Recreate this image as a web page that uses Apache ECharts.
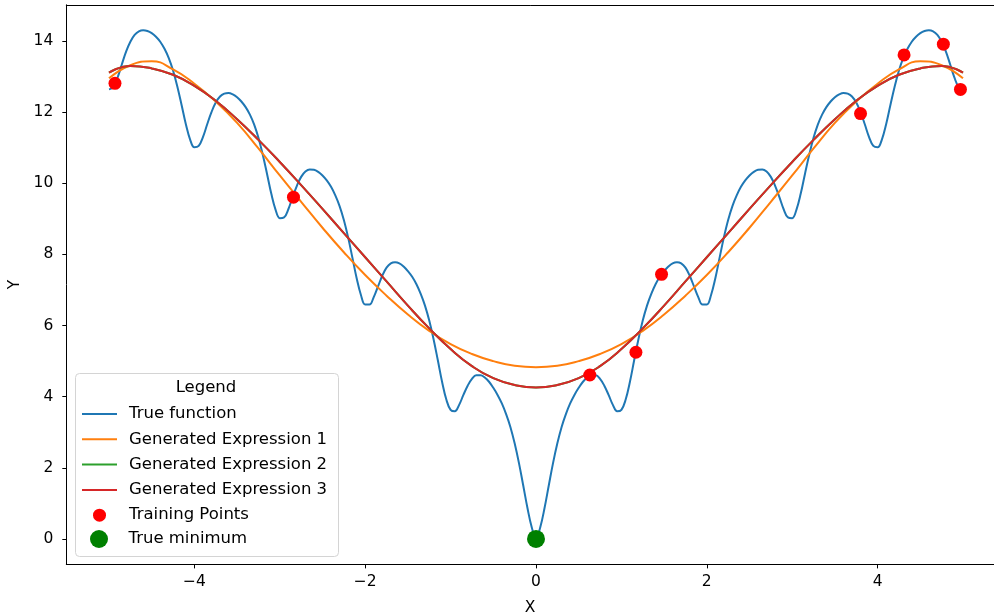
<!DOCTYPE html>
<html>
<head>
<meta charset="utf-8">
<script src="https://cdn.jsdelivr.net/npm/echarts@6/dist/echarts.min.js"></script>
<style>
html,body{margin:0;padding:0;background:#ffffff;}
#chart{width:994px;height:614px;}
</style>
</head>
<body>
<div id="chart"></div>
<script>
// ---- data ----
const trueX = [-5.00,-4.95,-4.90,-4.85,-4.80,-4.75,-4.70,-4.65,-4.60,-4.55,
-4.50,-4.45,-4.40,-4.35,-4.30,-4.25,-4.20,-4.15,-4.10,-4.05,
-4.00,-3.95,-3.90,-3.85,-3.80,-3.75,-3.70,-3.65,-3.60,-3.55,
-3.50,-3.45,-3.40,-3.35,-3.30,-3.25,-3.20,-3.15,-3.10,-3.05,
-3.00,-2.95,-2.90,-2.85,-2.80,-2.75,-2.70,-2.65,-2.60,-2.55,
-2.50,-2.45,-2.40,-2.35,-2.30,-2.25,-2.20,-2.15,-2.10,-2.05,
-2.00,-1.95,-1.90,-1.85,-1.80,-1.75,-1.70,-1.65,-1.60,-1.55,
-1.50,-1.45,-1.40,-1.35,-1.30,-1.25,-1.20,-1.15,-1.10,-1.05,
-1.00,-0.95,-0.90,-0.85,-0.80,-0.75,-0.70,-0.65,-0.60,-0.55,
-0.50,-0.45,-0.40,-0.35,-0.30,-0.25,-0.20,-0.15,-0.10,-0.05,
0.00,
0.05,0.10,0.15,0.20,0.25,0.30,0.35,0.40,0.45,0.50,
0.55,0.60,0.65,0.70,0.75,0.80,0.85,0.90,0.95,1.00,
1.05,1.10,1.15,1.20,1.25,1.30,1.35,1.40,1.45,1.50,
1.55,1.60,1.65,1.70,1.75,1.80,1.85,1.90,1.95,2.00,
2.05,2.10,2.15,2.20,2.25,2.30,2.35,2.40,2.45,2.50,
2.55,2.60,2.65,2.70,2.75,2.80,2.85,2.90,2.95,3.00,
3.05,3.10,3.15,3.20,3.25,3.30,3.35,3.40,3.45,3.50,
3.55,3.60,3.65,3.70,3.75,3.80,3.85,3.90,3.95,4.00,
4.05,4.10,4.15,4.20,4.25,4.30,4.35,4.40,4.45,4.50,
4.55,4.60,4.65,4.70,4.75,4.80,4.85,4.90,4.95,5.00];
const trueY = [12.64,12.70,12.97,13.34,13.70,13.98,14.17,14.27,14.30,14.28,
14.22,14.12,13.98,13.78,13.52,13.17,12.72,12.20,11.66,11.23,
11.01,11.05,11.30,11.66,12.00,12.27,12.44,12.52,12.54,12.50,
12.42,12.30,12.14,11.93,11.65,11.28,10.81,10.27,9.71,9.26,
9.02,9.04,9.27,9.61,9.93,10.18,10.33,10.39,10.38,10.32,
10.22,10.08,9.90,9.66,9.36,8.97,8.48,7.91,7.33,6.86,
6.59,6.59,6.80,7.10,7.40,7.63,7.75,7.78,7.75,7.66,
7.53,7.37,7.16,6.89,6.56,6.14,5.62,5.03,4.42,3.92,
3.63,3.59,3.77,4.05,4.31,4.50,4.60,4.60,4.54,4.42,
4.25,4.05,3.81,3.51,3.15,2.69,2.14,1.51,0.87,0.33,
0.00,
0.33,0.87,1.51,2.14,2.69,3.15,3.51,3.81,4.05,4.25,
4.42,4.54,4.60,4.60,4.50,4.31,4.05,3.77,3.59,3.63,
3.92,4.42,5.03,5.62,6.14,6.56,6.89,7.16,7.37,7.53,
7.66,7.75,7.78,7.75,7.63,7.40,7.10,6.80,6.59,6.59,
6.86,7.33,7.91,8.48,8.97,9.36,9.66,9.90,10.08,10.22,
10.32,10.38,10.39,10.33,10.18,9.93,9.61,9.27,9.04,9.02,
9.26,9.71,10.27,10.81,11.28,11.65,11.93,12.14,12.30,12.42,
12.50,12.54,12.52,12.44,12.27,12.00,11.66,11.30,11.05,11.01,
11.23,11.66,12.20,12.72,13.17,13.52,13.78,13.98,14.12,14.22,
14.28,14.30,14.27,14.17,13.98,13.70,13.34,12.97,12.70,12.64];

const exprX = [-5.0,-4.75,-4.5,-4.25,-4.0,-3.75,-3.5,-3.25,-3.0,-2.75,-2.5,-2.25,-2.0,-1.75,-1.5,-1.25,-1.0,-0.75,-0.5,-0.25,0.0,0.25,0.5,0.75,1.0,1.25,1.5,1.75,2.0,2.25,2.5,2.75,3.0,3.25,3.5,3.75,4.0,4.25,4.5,4.75,5.0];
const expr1Y = [12.95,13.32,13.43,13.20,12.80,12.30,11.70,10.98,10.22,9.48,8.75,8.06,7.42,6.84,6.31,5.85,5.48,5.20,5.00,4.87,4.83,4.87,5.00,5.20,5.48,5.85,6.31,6.84,7.42,8.06,8.75,9.48,10.22,10.98,11.70,12.30,12.80,13.20,13.43,13.32,12.95];
const expr2Y = [13.11,13.30,13.23,13.05,12.74,12.32,11.80,11.22,10.60,9.95,9.28,8.60,7.92,7.24,6.56,5.92,5.34,4.86,4.52,4.33,4.26,4.33,4.52,4.86,5.34,5.92,6.56,7.24,7.92,8.60,9.28,9.95,10.60,11.22,11.80,12.32,12.74,13.05,13.23,13.30,13.11];
const expr3Y = [13.11,13.30,13.23,13.05,12.74,12.32,11.80,11.22,10.60,9.95,9.28,8.60,7.92,7.24,6.56,5.92,5.34,4.86,4.52,4.33,4.26,4.33,4.52,4.86,5.34,5.92,6.56,7.24,7.92,8.60,9.28,9.95,10.60,11.22,11.80,12.32,12.74,13.05,13.23,13.30,13.11];

const trainX = [-4.93,-2.84,0.63,1.17,1.47,3.80,4.31,4.77,4.97];
const trainY = [12.81,9.61,4.61,5.25,7.44,11.96,13.61,13.91,12.64];

const minX = [0];
const minY = [0];

const xTicks = [-4,-2,0,2,4];
const yTicks = [0,2,4,6,8,10,12,14];

const seriesNames = ['True function','Generated Expression 1','Generated Expression 2','Generated Expression 3','Training Points','True minimum'];

// ---- chart ----
function pairs(xs, ys){ return xs.map((x,i)=>[x, ys[i]]); }
function fmt(v){ return v < 0 ? '\u2212' + Math.abs(v) : String(v); }

const FONT = 'DejaVu Sans';
const TICK_FS = 15.5;
const LEG_FS = 16.5;
const chart = echarts.init(document.getElementById('chart'), null, {renderer:'canvas'});

const noSymbol = {opacity: 0, color: 'rgba(0,0,0,0)', borderWidth: 0};

chart.setOption({
  animation: false,
  backgroundColor: '#ffffff',
  textStyle: {fontFamily: FONT},
  grid: {left: 66.3, top: 4.8, width: 927.7, height: 559.6, show: false, containLabel: false, outerBoundsMode: 'none'},
  xAxis: [
    {
      type: 'value', min: -5.5, max: 5.363,
      name: 'X', nameLocation: 'middle', nameGap: 36,
      nameTextStyle: {fontFamily: FONT, fontSize: TICK_FS, color: '#000'},
      axisLine: {show: true, onZero: false, lineStyle: {color: '#000', width: 1}},
      axisTick: {show: true, length: 4, inside: false, customValues: xTicks, lineStyle: {color: '#000', width: 1}},
      axisLabel: {show: true, customValues: xTicks, margin: 10, formatter: fmt, fontFamily: FONT, fontSize: TICK_FS, color: '#000'},
      splitLine: {show: false}
    },
    {
      type: 'value', position: 'top', min: -5.5, max: 5.363,
      axisLine: {show: true, onZero: false, lineStyle: {color: '#000', width: 1}},
      axisTick: {show: false}, axisLabel: {show: false}, splitLine: {show: false}
    }
  ],
  yAxis: {
    type: 'value', min: -0.715, max: 15.018,
    name: 'Y', nameLocation: 'middle', nameGap: 43,
    nameTextStyle: {fontFamily: FONT, fontSize: TICK_FS, color: '#000'},
    axisLine: {show: true, onZero: false, lineStyle: {color: '#000', width: 1}},
    axisTick: {show: true, length: 4, inside: false, customValues: yTicks, lineStyle: {color: '#000', width: 1}},
    axisLabel: {show: true, customValues: yTicks, margin: 13, formatter: fmt, fontFamily: FONT, fontSize: TICK_FS, color: '#000'},
    splitLine: {show: false}
  },
  legend: [
    {
      data: [
        {name: seriesNames[0], itemStyle: noSymbol},
        {name: seriesNames[1], itemStyle: noSymbol},
        {name: seriesNames[2], itemStyle: noSymbol},
        {name: seriesNames[3], itemStyle: noSymbol},
        {name: seriesNames[4], icon: 'circle'}
      ],
      orient: 'vertical', left: 81, top: 405.5, padding: 0,
      itemWidth: 35, itemHeight: 13, itemGap: 8.3,
      textStyle: {fontFamily: FONT, fontSize: LEG_FS, color: '#000', padding: [0,0,0,7]},
      selectedMode: false, z: 6
    },
    {
      data: [{name: seriesNames[5], icon: 'circle'}],
      orient: 'vertical', left: 90, top: 530, padding: 0,
      itemWidth: 35, itemHeight: 18,
      textStyle: {fontFamily: FONT, fontSize: LEG_FS, color: '#000', padding: [0,0,0,7]},
      selectedMode: false, z: 6
    }
  ],
  graphic: [
    {
      type: 'rect', z: 5,
      shape: {x: 75.5, y: 373.5, width: 263, height: 183, r: 4},
      style: {fill: 'rgba(255,255,255,0.8)', stroke: '#d4d4d4', lineWidth: 1}
    },
    {
      type: 'text', z: 7, x: 206, y: 388,
      style: {text: 'Legend', font: LEG_FS + 'px "DejaVu Sans"', fill: '#000', align: 'center', verticalAlign: 'middle'}
    }
  ],
  series: [
    {name: seriesNames[0], type: 'line', data: pairs(trueX, trueY), smooth: 0.4, symbol: 'none',
     lineStyle: {color: '#1f77b4', width: 2}, itemStyle: {color: '#1f77b4'}},
    {name: seriesNames[1], type: 'line', data: pairs(exprX, expr1Y), smooth: true, symbol: 'none',
     lineStyle: {color: '#ff7f0e', width: 2}, itemStyle: {color: '#ff7f0e'}},
    {name: seriesNames[2], type: 'line', data: pairs(exprX, expr2Y), smooth: true, symbol: 'none',
     lineStyle: {color: '#2ca02c', width: 2}, itemStyle: {color: '#2ca02c'}},
    {name: seriesNames[3], type: 'line', data: pairs(exprX, expr3Y), smooth: true, symbol: 'none',
     lineStyle: {color: '#d62728', width: 2}, itemStyle: {color: '#d62728'}},
    {name: seriesNames[4], type: 'scatter', data: pairs(trainX, trainY), symbol: 'circle', symbolSize: 13,
     itemStyle: {color: '#ff0000', opacity: 1}, z: 3},
    {name: seriesNames[5], type: 'scatter', data: pairs(minX, minY), symbol: 'circle', symbolSize: 18,
     itemStyle: {color: '#008000', opacity: 1}, z: 3}
  ]
});
</script>
</body>
</html>
